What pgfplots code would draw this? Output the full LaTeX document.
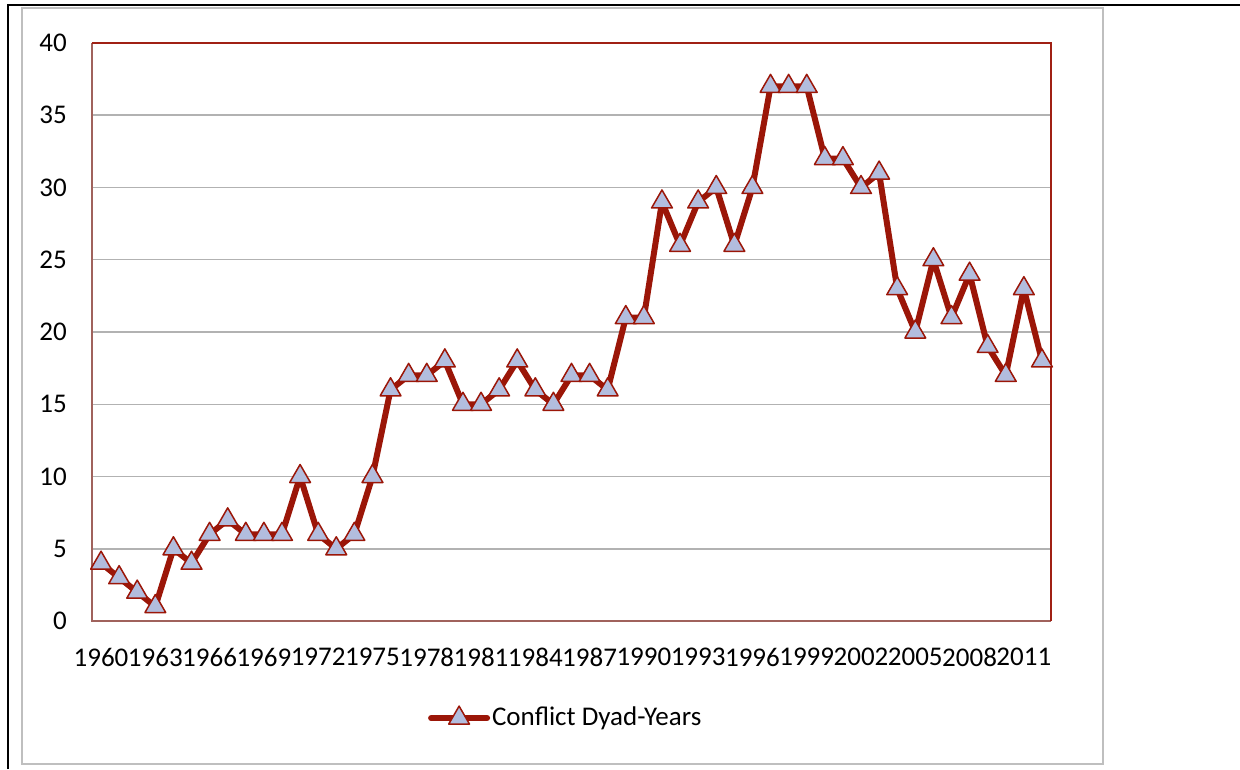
\documentclass[border=0pt]{standalone}
\usepackage{pgfplots}
\pgfplotsset{compat=1.18}
\usepackage{fontspec}
\setmainfont{Carlito}

\definecolor{linered}{RGB}{155,22,8}
\definecolor{framered}{RGB}{160,32,20}
\definecolor{framebrown}{RGB}{160,98,92}
\definecolor{markfill}{RGB}{178,189,222}
\definecolor{gridgray}{RGB}{178,178,178}

\begin{document}
\fontsize{27}{32}\selectfont
\begin{tikzpicture}
\useasboundingbox (0pt,0pt) rectangle (1240pt,769pt);
% page frame and chart area
\draw[line width=2.5pt] (8pt,0pt) -- (8pt,764pt) -- (1240pt,764pt);
\draw[gray!50, line width=1.5pt] (22pt,5pt) rectangle (1103pt,761pt);
\begin{axis}[
	at={(92pt,148pt)}, anchor=south west,
	scale only axis, width=959pt, height=578pt,
	xmin=1959.5, xmax=2012.5,
	ymin=0, ymax=40,
	ytick={0,5,...,40},
	xtick={1960,1963,...,2011},
	xticklabel style={/pgf/number format/1000 sep={}, yshift=-18pt},
	yticklabel style={xshift=-16pt},
	/pgf/number format/assume math mode=true,
	major tick length=0pt,
	axis line style={draw=none},
	ymajorgrids,
	grid style={gridgray, line width=1.5pt},
	clip=false,
	legend style={at={(0.494,-0.168)}, anchor=center, draw=none, fill=none,
		/tikz/every even column/.append style={column sep=0pt}},
	legend image code/.code={
		\draw[mark repeat=2, mark phase=2] plot coordinates {(0pt,0pt) (28pt,0pt) (56pt,0pt)};
	},
]
\draw[framebrown, line width=2.5pt] (rel axis cs:0,1) -- (rel axis cs:0,0) -- (rel axis cs:1,0);
\draw[framered, line width=2.5pt] (rel axis cs:0,1) -- (rel axis cs:1,1) -- (rel axis cs:1,0);
\addplot[linered, line width=6pt, line cap=round, line join=round,
	mark=triangle*, mark size=12pt,
	mark options={solid, fill=markfill, draw=linered, line width=1.5pt}]
	coordinates {
	(1960,4) (1961,3) (1962,2) (1963,1) (1964,5) (1965,4) (1966,6) (1967,7)
	(1968,6) (1969,6) (1970,6) (1971,10) (1972,6) (1973,5) (1974,6) (1975,10)
	(1976,16) (1977,17) (1978,17) (1979,18) (1980,15) (1981,15) (1982,16) (1983,18)
	(1984,16) (1985,15) (1986,17) (1987,17) (1988,16) (1989,21) (1990,21) (1991,29)
	(1992,26) (1993,29) (1994,30) (1995,26) (1996,30) (1997,37) (1998,37) (1999,37)
	(2000,32) (2001,32) (2002,30) (2003,31) (2004,23) (2005,20) (2006,25) (2007,21)
	(2008,24) (2009,19) (2010,17) (2011,23) (2012,18)
	};
\addlegendentry{Conflict Dyad-Years}
\end{axis}
\end{tikzpicture}
\end{document}
